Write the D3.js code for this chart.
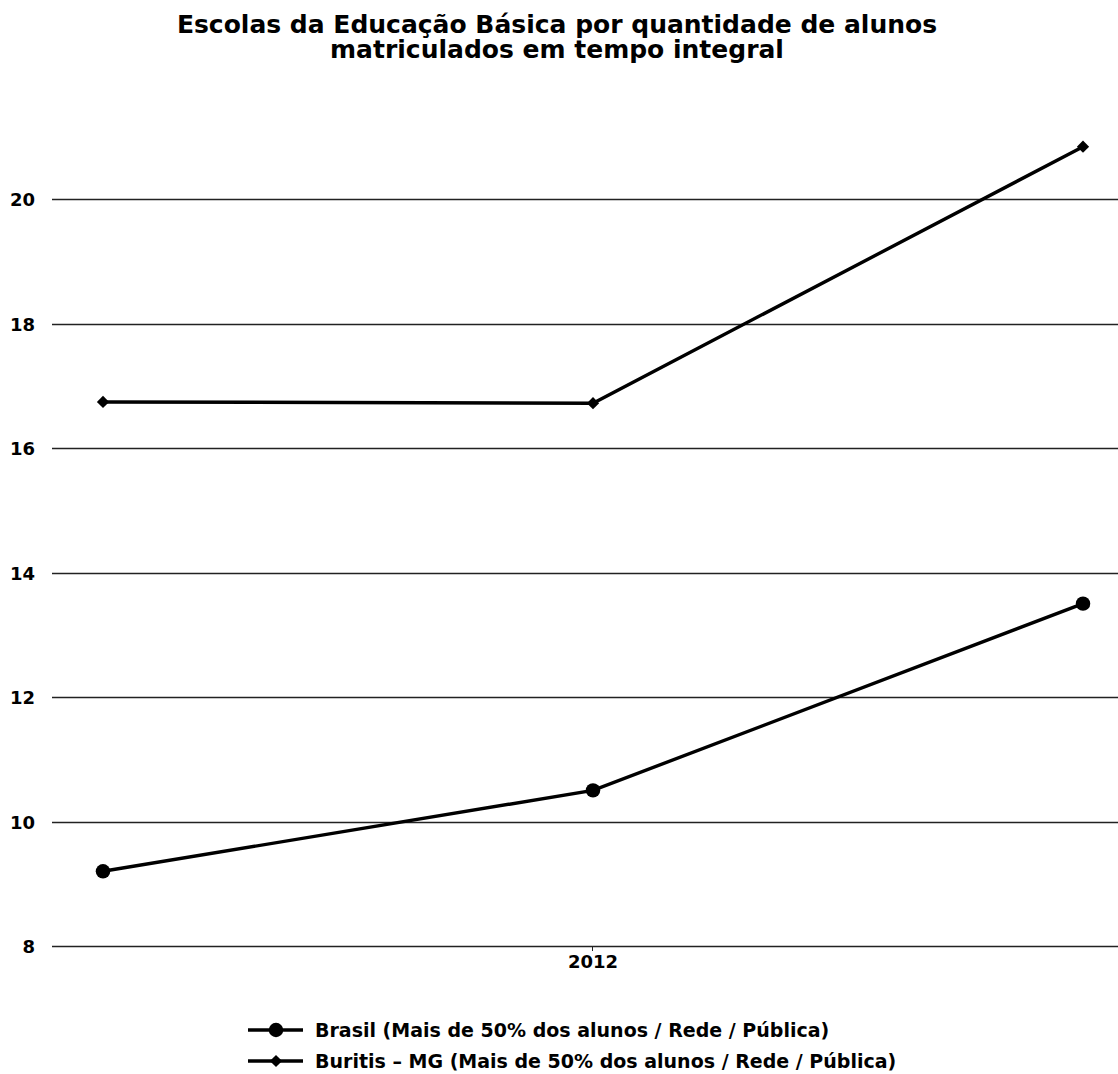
<!DOCTYPE html>
<html>
<head>
<meta charset="utf-8">
<script src="https://cdn.jsdelivr.net/npm/d3@7"></script>
<style>
  html, body { margin: 0; padding: 0; background: #fff; overflow: hidden; }
  svg { display: block; font-family: "DejaVu Sans", Verdana, sans-serif; }
</style>
</head>
<body>
<svg id="chart" width="1118" height="1074"></svg>
<script>
// Years on the horizontal axis (only 2012 is labelled)
const years = [2011, 2012, 2013];
const labelledYears = [2012];

// Series values
const brasilValues = [9.2, 10.5, 13.5];
const buritisValues = [16.74, 16.72, 20.84];

const seriesNames = [
  "Brasil (Mais de 50% dos alunos / Rede / Pública)",
  "Buritis – MG (Mais de 50% dos alunos / Rede / Pública)"
];

// Y axis ticks
const yTicks = [8, 10, 12, 14, 16, 18, 20];

const titleLines = [
  "Escolas da Educação Básica por quantidade de alunos",
  "matriculados em tempo integral"
];

const svg = d3.select("#chart");

const gridLeft = 52, gridRight = 1118;

const x = d3.scalePoint().domain(years).range([103, 1083]);
const y = d3.scaleLinear().domain([8, 20]).range([946, 199]);

// Title, one text element per line
svg.append("g")
  .selectAll("text")
  .data(titleLines)
  .join("text")
  .attr("x", 557)
  .attr("y", (d, i) => 33 + i * 25)
  .attr("text-anchor", "middle")
  .attr("font-weight", "bold")
  .attr("font-size", 25)
  .attr("fill", "#000")
  .text(d => d);

// Horizontal gridlines
svg.append("g")
  .selectAll("line")
  .data(yTicks)
  .join("line")
  .attr("x1", gridLeft)
  .attr("x2", gridRight)
  .attr("y1", d => Math.round(y(d)) + 0.5)
  .attr("y2", d => Math.round(y(d)) + 0.5)
  .attr("stroke", "#222")
  .attr("stroke-width", 1.3);

// Y axis labels
svg.append("g")
  .selectAll("text")
  .data(yTicks)
  .join("text")
  .attr("x", 35)
  .attr("y", d => y(d) + 7)
  .attr("text-anchor", "end")
  .attr("font-weight", "bold")
  .attr("font-size", 18)
  .attr("fill", "#000")
  .text(d => d);

// X axis ticks and labels
const xg = svg.append("g");
xg.selectAll("line")
  .data(labelledYears)
  .join("line")
  .attr("x1", d => x(d) - 0.5)
  .attr("x2", d => x(d) - 0.5)
  .attr("y1", y(8))
  .attr("y2", y(8) + 5)
  .attr("stroke", "#222");
xg.selectAll("text")
  .data(labelledYears)
  .join("text")
  .attr("x", d => x(d))
  .attr("y", y(8) + 22)
  .attr("text-anchor", "middle")
  .attr("font-weight", "bold")
  .attr("font-size", 18)
  .attr("fill", "#000")
  .text(d => d);

const line = d3.line().x(d => x(d.year)).y(d => y(d.value));

const series = [
  { name: seriesNames[0], values: brasilValues, marker: d3.symbolCircle, size: 165, rot: 0 },
  { name: seriesNames[1], values: buritisValues, marker: d3.symbolSquare, size: 75, rot: 45 }
];

series.forEach(s => {
  const pts = years.map((yr, i) => ({ year: yr, value: s.values[i] }));
  svg.append("path")
    .datum(pts)
    .attr("d", line)
    .attr("fill", "none")
    .attr("stroke", "#000")
    .attr("stroke-width", 3.4);
  svg.append("g")
    .selectAll("path")
    .data(pts)
    .join("path")
    .attr("transform", d => `translate(${x(d.year)},${y(d.value)}) rotate(${s.rot})`)
    .attr("d", d3.symbol().type(s.marker).size(s.size))
    .attr("fill", "#000");
});

// Legend
const legend = svg.append("g");
series.forEach((s, i) => {
  const ly = 1030 + i * 31;
  legend.append("line")
    .attr("x1", 248).attr("x2", 303)
    .attr("y1", ly).attr("y2", ly)
    .attr("stroke", "#000").attr("stroke-width", 3.4);
  legend.append("path")
    .attr("transform", `translate(276,${ly}) rotate(${s.rot})`)
    .attr("d", d3.symbol().type(s.marker).size(s.size))
    .attr("fill", "#000");
  legend.append("text")
    .attr("x", 315)
    .attr("y", ly + 7)
    .attr("font-weight", "bold")
    .attr("font-size", 19)
    .attr("fill", "#000")
    .text(s.name);
});
</script>
</body>
</html>
